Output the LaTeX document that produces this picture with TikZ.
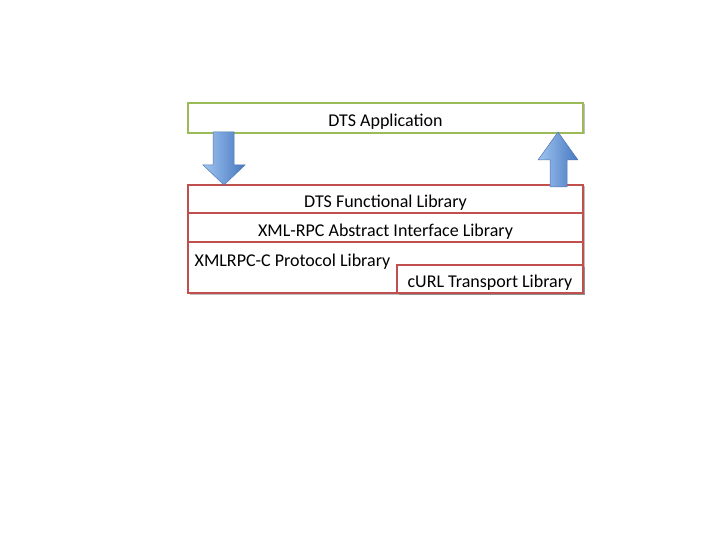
\documentclass[tikz,border=0pt]{standalone}
\usepackage{fontspec}
\setmainfont{Carlito}
\usetikzlibrary{shadows,positioning}
\definecolor{appgreen}{RGB}{155,187,89}
\definecolor{libred}{RGB}{192,80,77}
\definecolor{arrowlight}{RGB}{160,196,240}
\definecolor{arrowdark}{RGB}{70,120,192}
\definecolor{arrowedge}{RGB}{80,120,180}
\begin{document}
\begin{tikzpicture}[x=1pt,y=-1pt,
  font=\fontsize{18pt}{21pt}\selectfont,
  boxshadow/.style={drop shadow={shadow xshift=1.5pt,shadow yshift=-1.5pt,opacity=0.25,fill=black}},
  appbox/.style={draw=appgreen,line width=1.6pt,fill=white,boxshadow,inner sep=0pt},
  libbox/.style={draw=libred,line width=1.6pt,fill=white,inner sep=0pt},
  libtext/.style={inner sep=0pt},
  bluearrow/.style={draw=arrowedge,line width=0.5pt,left color=arrowlight,right color=arrowdark}]
\useasboundingbox (0,0) rectangle (720,540);
% application layer
\node[appbox,minimum width=395pt,minimum height=30pt] (app) at (385.5,118) {};
\node[libtext] (apptext) at (385.5,121.5) {DTS Application};
% library stack
\node[libbox,boxshadow,minimum width=395pt,minimum height=108pt] (stack) at (385.5,239) {};
\node[libbox,minimum width=395pt,minimum height=28pt] (fun) at (385.5,199) {};
\node[libtext] (funtext) at (385.5,202.5) {DTS Functional Library};
\node[libbox,minimum width=395pt,minimum height=29pt] (xml) at (385.5,227.5) {};
\node[libtext] (xmltext) at (385.5,231.5) {XML-RPC Abstract Interface Library};
\node[libtext,anchor=west] (prototext) at (194.5,261.5) {XMLRPC-C Protocol Library};
\node[libbox,boxshadow,minimum width=186pt,minimum height=28pt] (curl) at (490,279) {};
\node[libtext] (curltext) at (490,282.5) {cURL Transport Library};
% arrows
\path[bluearrow] (213,132) -- (234,132) -- (234,165) -- (245,165) -- (224,185)
  -- (203,165) -- (213,165) -- cycle;
\path[bluearrow] (550,187) -- (567,187) -- (567,160) -- (578,160) -- (558,132)
  -- (538,160) -- (550,160) -- cycle;
\end{tikzpicture}
\end{document}
